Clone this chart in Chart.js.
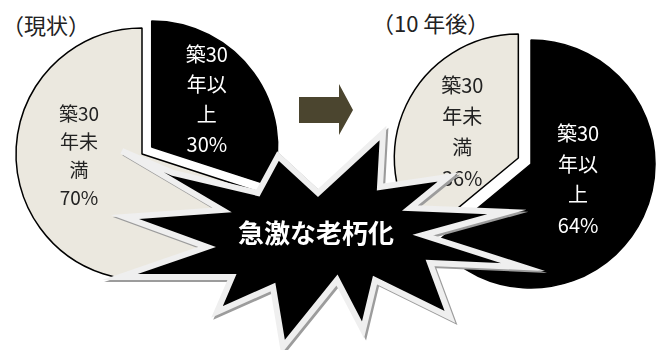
<!DOCTYPE html>
<html lang="ja">
<head>
<meta charset="utf-8">
<script src="https://cdn.jsdelivr.net/npm/chart.js@4.4.1/dist/chart.umd.min.js"></script>
<style>
  html, body { margin: 0; padding: 0; background: #fff; }
  #wrap { position: relative; width: 657px; height: 350px; overflow: hidden; font-family: "Noto Sans CJK JP", sans-serif; }
  #wrap canvas { position: absolute; }
  .caption { position: absolute; font-size: 22px; color: #222; line-height: 1; white-space: nowrap; }
  #deco { position: absolute; left: 0; top: 0; }
</style>
</head>
<body>
<div id="wrap">
  <div class="caption" style="left:2px; top:13px;">（現状）</div>
  <div class="caption" style="left:372px; top:11px;">（10 年後）</div>
  <canvas id="pie-now" width="300" height="300"></canvas>
  <canvas id="pie-later" width="300" height="300"></canvas>
  <svg id="deco" width="657" height="350" viewBox="0 0 657 350">
    <!-- 矢印 -->
    <polygon points="299,97 339,97 339,84 353,110 339,135 339,123 299,123" fill="#4b452f"/>
    <!-- 爆発マーク -->
    <polygon transform="translate(2,2)" fill="none" stroke="#9c9c9c" stroke-width="6" stroke-linejoin="miter" stroke-miterlimit="10"
      points="122,151 173,173 258,193 278,156 318,193 383,133 380,187 448,177 410,208 507,212 423,235 523,267 430,263 450,317 375,280 363,330 337,280 283,347 273,287 217,312 232,277 120,277 207,247 125,217 222,210"/>
    <polygon fill="#000" stroke="#efefef" stroke-width="6" stroke-linejoin="miter" stroke-miterlimit="10"
      points="122,151 173,173 258,193 278,156 318,193 383,133 380,187 448,177 410,208 507,212 423,235 523,267 430,263 450,317 375,280 363,330 337,280 283,347 273,287 217,312 232,277 120,277 207,247 125,217 222,210"/>
    <text x="316" y="231" fill="#fff" font-size="26" font-weight="bold" text-anchor="middle" dominant-baseline="central"
      font-family="Noto Sans CJK JP, sans-serif">急激な老朽化</text>
  </svg>
</div>
<script>
// 区分（ラベルは改行済み）と割合
const categories = [['築30', '年以', '上'], ['築30', '年未', '満']];
const nowShares = [30, 70];
const laterShares = [64, 36];

const sliceColors = ['#000000', '#ebe8df'];
const labelColors = ['#ffffff', '#222222'];

// 指定した扇形を中心から外へずらす
const explodePlugin = {
    id: 'explode',
    afterDatasetUpdate(chart, args) {
        const ds = chart.data.datasets[args.index];
        args.meta.data.forEach((arc, i) => {
            const d = (ds.explode || [])[i] || 0;
            if (!d) return;
            const mid = (arc.startAngle + arc.endAngle) / 2;
            arc.x += Math.cos(mid) * d;
            arc.y += Math.sin(mid) * d;
        });
    }
};

// 扇形の中にラベルと割合を書く
const sliceLabels = {
    id: 'sliceLabels',
    afterDatasetsDraw(chart) {
        const ctx = chart.ctx;
        const ds = chart.data.datasets[0];
        chart.getDatasetMeta(0).data.forEach((arc, i) => {
            const spot = ds.labelSpots[i];
            const ang = (arc.startAngle + arc.endAngle) / 2 + spot.turn * Math.PI / 180;
            const dist = arc.outerRadius * spot.frac;
            const x = arc.x + Math.cos(ang) * dist;
            const y = arc.y + Math.sin(ang) * dist;
            const lines = chart.data.labels[i].concat(ds.data[i] + '%');
            ctx.save();
            ctx.font = spot.size + 'px "Noto Sans CJK JP"';
            ctx.fillStyle = labelColors[i];
            ctx.textAlign = 'center';
            ctx.textBaseline = 'middle';
            const y0 = y - (lines.length - 1) * spot.lead / 2;
            lines.forEach((t, k) => ctx.fillText(t, x, y0 + k * spot.lead));
            ctx.restore();
        });
    }
};

function makePie(id, shares, cfg) {
    const canvas = document.getElementById(id);
    canvas.style.left = (cfg.cx - canvas.width / 2) + 'px';
    canvas.style.top = (cfg.cy - canvas.height / 2) + 'px';
    return new Chart(canvas, {
        type: 'pie',
        data: {
            labels: categories,
            datasets: [{
                data: shares,
                backgroundColor: sliceColors,
                borderColor: '#000',
                borderWidth: 1.5,
                radius: cfg.r,
                explode: cfg.explode,
                labelSpots: cfg.spots
            }]
        },
        options: {
            responsive: false,
            animation: false,
            events: [],
            plugins: {
                legend: { display: false },
                tooltip: { enabled: false }
            }
        },
        plugins: [explodePlugin, sliceLabels]
    });
}

makePie('pie-now', nowShares, {
    cx: 142, cy: 154, r: 126,
    explode: [12, 0],
    spots: [
        { frac: 0.58, turn: -5, size: 20, lead: 30 },
        { frac: 0.5, turn: 34, size: 19, lead: 28 }
    ]
});

makePie('pie-later', laterShares, {
    cx: 531, cy: 164, r: 124,
    explode: [0, 14],
    spots: [
        { frac: 0.4, turn: -7, size: 20, lead: 30.5 },
        { frac: 0.5, turn: 0, size: 20, lead: 31 }
    ]
});
</script>
</body>
</html>
